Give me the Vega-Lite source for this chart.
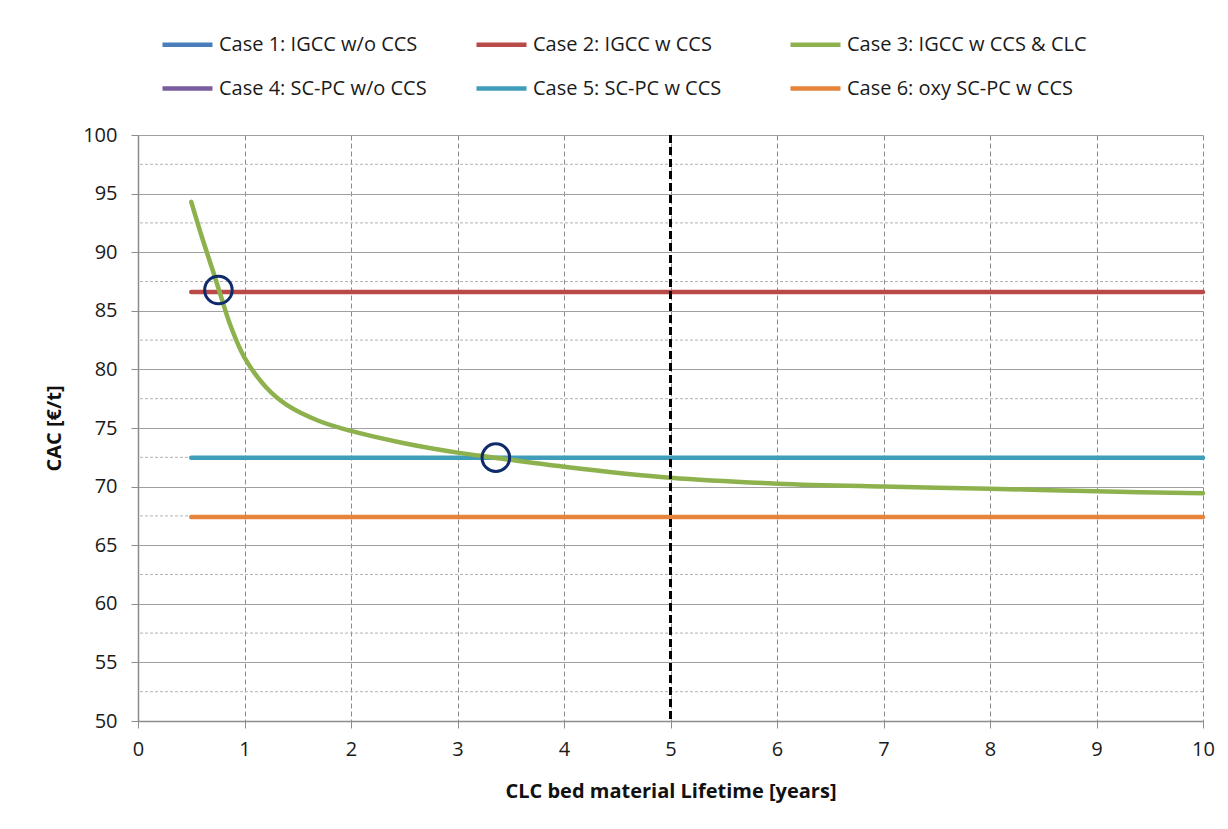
{
  "$schema": "https://vega.github.io/schema/vega-lite/v6.json",
  "width": 1065,
  "height": 586,
  "autosize": {"type": "none"},
  "padding": {"left": 138, "top": 135, "right": 25, "bottom": 108},
  "background": "white",
  "config": {
    "view": {"stroke": null},
    "font": "Open Sans",
    "axis": {"labelFont": "Open Sans", "titleFont": "Open Sans"},
    "legend": {"labelFont": "Open Sans"}
  },
  "datasets": {
    "lines": [
      {"series": "Case 2: IGCC w CCS", "lifetime": 0.5, "cac": 86.6},
      {"series": "Case 2: IGCC w CCS", "lifetime": 10, "cac": 86.6},
      {"series": "Case 5: SC-PC w CCS", "lifetime": 0.5, "cac": 72.47},
      {"series": "Case 5: SC-PC w CCS", "lifetime": 10, "cac": 72.47},
      {"series": "Case 6: oxy SC-PC w CCS", "lifetime": 0.5, "cac": 67.4},
      {"series": "Case 6: oxy SC-PC w CCS", "lifetime": 10, "cac": 67.4},
      {"series": "Case 3: IGCC w CCS & CLC", "lifetime": 0.5, "cac": 94.3},
      {"series": "Case 3: IGCC w CCS & CLC", "lifetime": 0.6, "cac": 91.3},
      {"series": "Case 3: IGCC w CCS & CLC", "lifetime": 0.7, "cac": 88.5},
      {"series": "Case 3: IGCC w CCS & CLC", "lifetime": 0.77, "cac": 86.5},
      {"series": "Case 3: IGCC w CCS & CLC", "lifetime": 0.87, "cac": 83.7},
      {"series": "Case 3: IGCC w CCS & CLC", "lifetime": 1.0, "cac": 81.0},
      {"series": "Case 3: IGCC w CCS & CLC", "lifetime": 1.2, "cac": 78.5},
      {"series": "Case 3: IGCC w CCS & CLC", "lifetime": 1.4, "cac": 76.95},
      {"series": "Case 3: IGCC w CCS & CLC", "lifetime": 1.7, "cac": 75.6},
      {"series": "Case 3: IGCC w CCS & CLC", "lifetime": 2.0, "cac": 74.75},
      {"series": "Case 3: IGCC w CCS & CLC", "lifetime": 2.5, "cac": 73.7},
      {"series": "Case 3: IGCC w CCS & CLC", "lifetime": 3.0, "cac": 72.9},
      {"series": "Case 3: IGCC w CCS & CLC", "lifetime": 3.35, "cac": 72.47},
      {"series": "Case 3: IGCC w CCS & CLC", "lifetime": 4.0, "cac": 71.7},
      {"series": "Case 3: IGCC w CCS & CLC", "lifetime": 5.0, "cac": 70.75},
      {"series": "Case 3: IGCC w CCS & CLC", "lifetime": 6.0, "cac": 70.25},
      {"series": "Case 3: IGCC w CCS & CLC", "lifetime": 7.0, "cac": 70.0},
      {"series": "Case 3: IGCC w CCS & CLC", "lifetime": 8.0, "cac": 69.82},
      {"series": "Case 3: IGCC w CCS & CLC", "lifetime": 9.0, "cac": 69.6},
      {"series": "Case 3: IGCC w CCS & CLC", "lifetime": 10.0, "cac": 69.43}
    ],
    "minor": [
      {"cac": 52.5}, {"cac": 57.5}, {"cac": 62.5}, {"cac": 67.5}, {"cac": 72.5},
      {"cac": 77.5}, {"cac": 82.5}, {"cac": 87.5}, {"cac": 92.5}, {"cac": 97.5}
    ],
    "marker": [{"lifetime": 5}],
    "circles": [
      {"lifetime": 0.755, "cac": 86.77},
      {"lifetime": 3.36, "cac": 72.47}
    ]
  },
  "layer": [
    {
      "data": {"name": "minor"},
      "mark": {"type": "rule", "color": "#b3b3b3", "strokeWidth": 1, "strokeDash": [3, 2]},
      "encoding": {
        "y": {"field": "cac", "type": "quantitative", "scale": {"domain": [50, 100]}}
      }
    },
    {
      "data": {"name": "lines"},
      "mark": {"type": "line", "strokeWidth": 4.5, "interpolate": "catmull-rom", "strokeCap": "round"},
      "encoding": {
        "x": {
          "field": "lifetime", "type": "quantitative",
          "scale": {"domain": [0, 10], "nice": false, "zero": true},
          "axis": {
            "title": "CLC bed material  Lifetime [years]",
            "values": [0, 1, 2, 3, 4, 5, 6, 7, 8, 9, 10],
            "format": "d",
            "labelFlush": false,
            "grid": true, "gridColor": "#8c8c8c", "gridDash": [5, 3], "gridWidth": 1,
            "domainColor": "#8c8c8c", "domainWidth": 1.5,
            "tickColor": "#8c8c8c", "tickSize": 7, "tickWidth": 1,
            "labelFontSize": 20, "labelColor": "#1a1a1a", "labelPadding": 11,
            "titleFontSize": 20, "titleFontWeight": "bold", "titleColor": "#111",
            "titlePadding": 22
          }
        },
        "y": {
          "field": "cac", "type": "quantitative",
          "scale": {"domain": [50, 100], "nice": false, "zero": false},
          "axis": {
            "title": "CAC [€/t]",
            "values": [50, 55, 60, 65, 70, 75, 80, 85, 90, 95, 100],
            "grid": true, "gridColor": "#a0a0a0", "gridWidth": 1.2,
            "domainColor": "#8c8c8c", "domainWidth": 1.5,
            "tickColor": "#8c8c8c", "tickSize": 7, "tickWidth": 1,
            "labelFontSize": 20, "labelColor": "#1a1a1a", "labelPadding": 14,
            "titleFontSize": 20, "titleFontWeight": "bold", "titleColor": "#111",
            "titlePadding": 18
          }
        },
        "color": {
          "field": "series", "type": "nominal",
          "scale": {
            "domain": [
              "Case 1: IGCC w/o CCS", "Case 2: IGCC w CCS", "Case 3: IGCC w CCS & CLC",
              "Case 4: SC-PC w/o CCS", "Case 5: SC-PC w CCS", "Case 6: oxy SC-PC w CCS"
            ],
            "range": ["#4A7EBB", "#B84A47", "#8DB14C", "#7A5C9E", "#3F9DBA", "#E5843A"]
          },
          "legend": {
            "title": null,
            "orient": "none",
            "legendX": 22,
            "legendY": -118,
            "direction": "horizontal",
            "columns": 3,
            "gridAlign": "all",
            "symbolType": "stroke",
            "symbolSize": 2500,
            "symbolStrokeWidth": 4.5,
            "labelFontSize": 20,
            "labelColor": "#1a1a1a",
            "labelOffset": 4,
            "labelLimit": 400,
            "columnPadding": 8,
            "rowPadding": 6
          }
        }
      }
    },
    {
      "data": {"name": "marker"},
      "mark": {"type": "rule", "color": "#000000", "strokeWidth": 3, "strokeDash": [8, 4]},
      "encoding": {
        "x": {"field": "lifetime", "type": "quantitative"}
      }
    },
    {
      "data": {"name": "circles"},
      "mark": {"type": "point", "shape": "circle", "filled": false, "stroke": "#0F2B6B", "strokeWidth": 3, "size": 760, "opacity": 1},
      "encoding": {
        "x": {"field": "lifetime", "type": "quantitative"},
        "y": {"field": "cac", "type": "quantitative"}
      }
    }
  ]
}
